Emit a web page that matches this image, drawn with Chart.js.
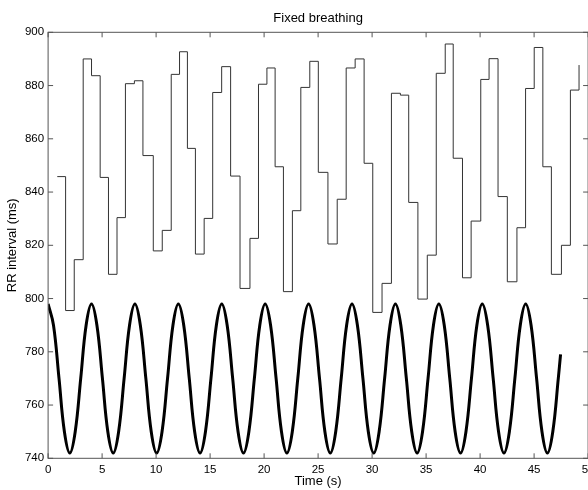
<!DOCTYPE html>
<html>
<head>
<meta charset="utf-8">
<script src="https://cdn.jsdelivr.net/npm/chart.js@4.4.1/dist/chart.umd.min.js"></script>
<style>
    html, body { margin: 0; padding: 0; background: #fff; overflow: hidden; }
    #wrap { position: relative; width: 600px; height: 490px; }
</style>
</head>
<body>
<div id="wrap"><canvas id="rrChart" width="600" height="490"></canvas></div>
<script>
/* beat times (s) and the RR interval (ms) that starts at each beat */
var beatTimes = [0.85, 1.62, 2.42, 3.25, 4.02, 4.82, 5.59, 6.38, 7.16, 7.99,
    8.78, 9.74, 10.57, 11.40, 12.17, 12.90, 13.64, 14.45, 15.24, 16.07,
    16.90, 17.77, 18.69, 19.48, 20.26, 21.02, 21.79, 22.62, 23.40, 24.23,
    25.02, 25.91, 26.77, 27.60, 28.43, 29.26, 30.06, 30.92, 31.79, 32.62,
    33.39, 34.24, 35.11, 35.94, 36.77, 37.51, 38.37, 39.17, 40.06, 40.83,
    41.66, 42.52, 43.41, 44.21, 45.01, 45.81, 46.60, 47.53, 48.36, 49.16];
var rrValues = [845.8, 795.5, 814.6, 890.0, 883.7, 845.5, 809.1, 830.4, 880.7, 881.8,
    853.7, 817.9, 825.6, 884.2, 892.7, 856.4, 816.7, 830.1, 877.4, 887.1,
    846.0, 803.8, 822.6, 880.5, 886.6, 849.5, 802.6, 833.0, 879.3, 889.1,
    847.4, 820.5, 837.3, 886.6, 890.0, 850.8, 794.8, 805.7, 877.1, 876.4,
    836.1, 799.8, 816.3, 884.6, 895.6, 852.7, 807.8, 829.1, 882.3, 890.1,
    838.3, 806.3, 826.6, 878.9, 894.3, 849.5, 809.1, 820.0, 878.3, 887.7];

/* breathing curve (thick line) */
var waveTimes = [0, 0.50, 1.01, 1.51, 2.01, 2.51, 3.02, 3.52,
    4.02, 4.52, 5.03, 5.53, 6.03, 6.53, 7.04, 7.54,
    8.04, 8.54, 9.05, 9.55, 10.05, 10.55, 11.06, 11.56,
    12.06, 12.56, 13.07, 13.57, 14.07, 14.57, 15.08, 15.58,
    16.08, 16.58, 17.09, 17.59, 18.09, 18.59, 19.10, 19.60,
    20.10, 20.60, 21.11, 21.61, 22.11, 22.61, 23.12, 23.62,
    24.12, 24.62, 25.13, 25.63, 26.13, 26.63, 27.14, 27.64,
    28.14, 28.64, 29.15, 29.65, 30.15, 30.65, 31.16, 31.66,
    32.16, 32.66, 33.17, 33.67, 34.17, 34.67, 35.18, 35.68,
    36.18, 36.68, 37.19, 37.69, 38.19, 38.69, 39.20, 39.70,
    40.20, 40.70, 41.21, 41.71, 42.21, 42.71, 43.22, 43.72,
    44.22, 44.72, 45.23, 45.73, 46.23, 46.73, 47.24, 47.45];
var waveValues = [798, 790, 770, 750, 742, 750, 770, 790,
    798, 790, 770, 750, 742, 750, 770, 790,
    798, 790, 770, 750, 742, 750, 770, 790,
    798, 790, 770, 750, 742, 750, 770, 790,
    798, 790, 770, 750, 742, 750, 770, 790,
    798, 790, 770, 750, 742, 750, 770, 790,
    798, 790, 770, 750, 742, 750, 770, 790,
    798, 790, 770, 750, 742, 750, 770, 790,
    798, 790, 770, 750, 742, 750, 770, 790,
    798, 790, 770, 750, 742, 750, 770, 790,
    798, 790, 770, 750, 742, 750, 770, 790,
    798, 790, 770, 750, 742, 750, 770, 779];

var xTicks = [0, 5, 10, 15, 20, 25, 30, 35, 40, 45, 50];
var yTicks = [740, 760, 780, 800, 820, 840, 860, 880, 900];

var FONT = "'Liberation Sans', Arial, Helvetica, sans-serif";
var AXIS_COLOR = '#555';

function pairs(xs, ys) {
    return xs.map(function (x, i) { return { x: x, y: ys[i] }; });
}

/* MATLAB-like box with inward ticks on all four sides */
var boxTicks = {
    id: 'boxTicks',
    afterDraw: function (chart) {
        var a = chart.chartArea, ctx = chart.ctx;
        var xs = chart.scales.x, ys = chart.scales.y;
        var len = 5;
        ctx.save();
        ctx.strokeStyle = AXIS_COLOR;
        ctx.lineWidth = 1;
        ctx.strokeRect(a.left, a.top, a.right - a.left, a.bottom - a.top);
        ctx.beginPath();
        xTicks.forEach(function (v) {
            var px = xs.getPixelForValue(v);
            ctx.moveTo(px, a.bottom); ctx.lineTo(px, a.bottom - len);
            ctx.moveTo(px, a.top); ctx.lineTo(px, a.top + len);
        });
        yTicks.forEach(function (v) {
            var py = ys.getPixelForValue(v);
            ctx.moveTo(a.left, py); ctx.lineTo(a.left + len, py);
            ctx.moveTo(a.right, py); ctx.lineTo(a.right - len, py);
        });
        ctx.stroke();
        ctx.restore();
    }
};

new Chart(document.getElementById('rrChart'), {
    type: 'line',
    data: {
        datasets: [{
            label: 'RR interval',
            data: pairs(beatTimes, rrValues),
            stepped: 'before',
            borderColor: '#333',
            borderWidth: 1,
            pointRadius: 0,
            fill: false
        }, {
            label: 'Breathing',
            data: pairs(waveTimes, waveValues),
            borderColor: '#000',
            borderWidth: 3,
            tension: 0.4,
            pointRadius: 0,
            fill: false
        }]
    },
    options: {
        responsive: false,
        animation: false,
        devicePixelRatio: 1,
        layout: { padding: { left: 0, right: 9.4, top: 0, bottom: 0 } },
        plugins: {
            legend: { display: false },
            tooltip: { enabled: false },
            title: {
                display: true,
                text: 'Fixed breathing',
                fullSize: false,
                color: '#000',
                font: { family: FONT, size: 13, weight: 'normal', lineHeight: 1.2 },
                padding: { top: 10.8, bottom: 5.9 }
            }
        },
        scales: {
            x: {
                type: 'linear',
                min: 0,
                max: 50,
                afterFit: function (s) { s.height = 31.7; },
                afterBuildTicks: function (s) { s.ticks = xTicks.map(function (v) { return { value: v }; }); },
                grid: { display: false, drawTicks: false },
                border: { display: false },
                ticks: { color: '#000', padding: 5.5, maxRotation: 0, autoSkip: false,
                    font: { family: FONT, size: 11.5, lineHeight: 1 } },
                title: { display: true, text: 'Time (s)', color: '#000',
                    font: { family: FONT, size: 13, lineHeight: 1 }, padding: { top: 0, bottom: 2 } }
            },
            y: {
                min: 740,
                max: 900,
                afterFit: function (s) { s.width = 48.1; },
                afterBuildTicks: function (s) { s.ticks = yTicks.map(function (v) { return { value: v }; }); },
                grid: { display: false, drawTicks: false },
                border: { display: false },
                ticks: { color: '#000', padding: 4, autoSkip: false,
                    font: { family: FONT, size: 11.5, lineHeight: 1 } },
                title: { display: true, text: 'RR interval (ms)', color: '#000',
                    font: { family: FONT, size: 13, lineHeight: 1 }, padding: { top: 6, bottom: 0 } }
            }
        }
    },
    plugins: [boxTicks]
});
</script>
</body>
</html>
